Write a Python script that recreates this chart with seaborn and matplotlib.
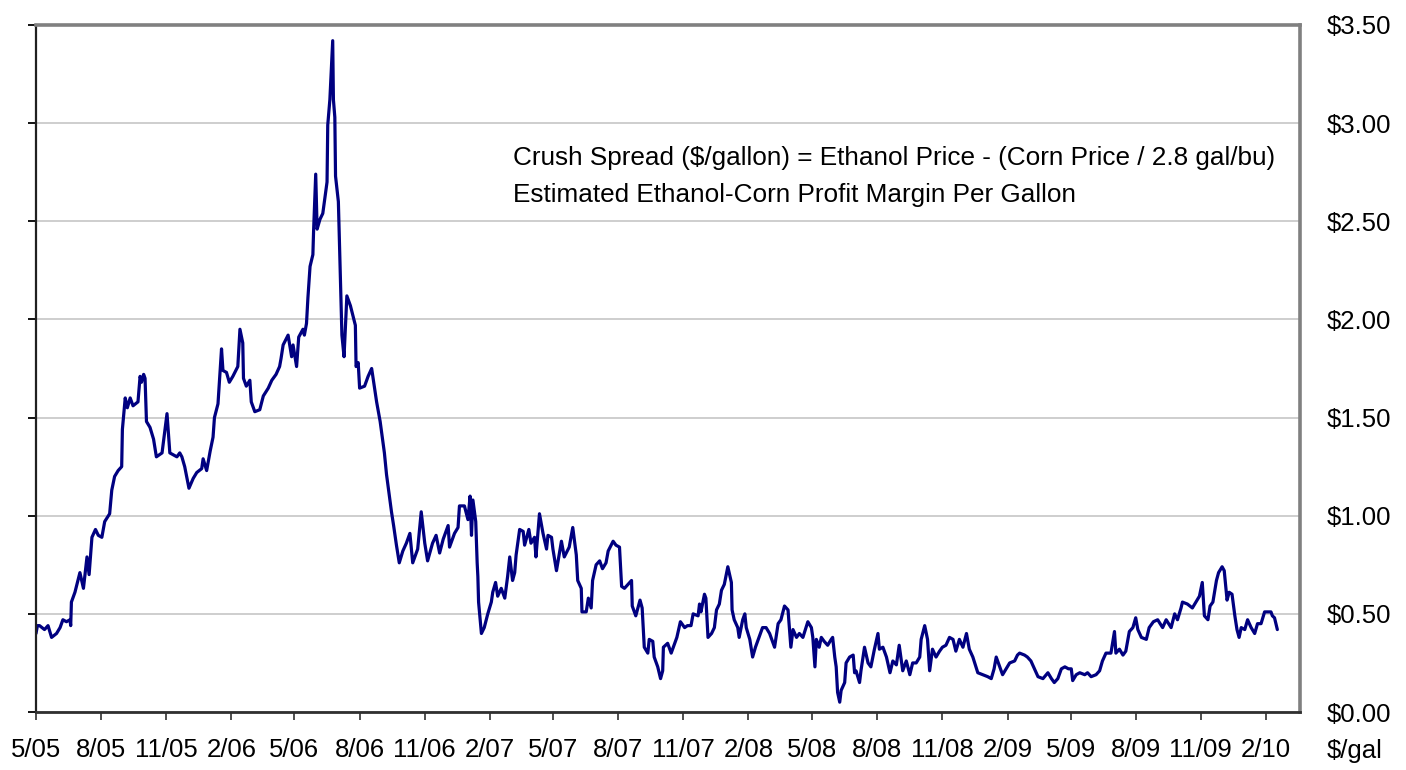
import matplotlib
matplotlib.use("Agg")
import matplotlib.pyplot as plt
import pandas as pd
import seaborn as sns

# ---- data ----
dates = [
    "2005-05-01", "2005-05-03", "2005-05-06", "2005-05-13", "2005-05-18", "2005-05-23", "2005-05-30",
    "2005-06-04", "2005-06-08", "2005-06-13", "2005-06-18", "2005-06-19", "2005-06-20", "2005-06-25",
    "2005-06-30", "2005-07-02", "2005-07-07", "2005-07-12", "2005-07-15", "2005-07-19", "2005-07-24",
    "2005-07-28", "2005-08-02", "2005-08-06", "2005-08-13", "2005-08-16", "2005-08-20", "2005-08-25",
    "2005-08-30", "2005-08-31", "2005-09-04", "2005-09-07", "2005-09-11", "2005-09-15", "2005-09-22",
    "2005-09-25", "2005-09-27", "2005-09-30", "2005-10-02", "2005-10-04", "2005-10-09", "2005-10-14",
    "2005-10-18", "2005-10-26", "2005-10-31", "2005-11-02", "2005-11-06", "2005-11-16", "2005-11-20",
    "2005-11-23", "2005-11-27", "2005-12-03", "2005-12-09", "2005-12-14", "2005-12-21", "2005-12-23",
    "2005-12-28", "2006-01-02", "2006-01-06", "2006-01-08", "2006-01-13", "2006-01-18", "2006-01-20",
    "2006-01-25", "2006-01-29", "2006-02-03", "2006-02-10", "2006-02-13", "2006-02-17", "2006-02-18",
    "2006-02-22", "2006-02-27", "2006-03-01", "2006-03-06", "2006-03-13", "2006-03-18", "2006-03-25",
    "2006-03-30", "2006-04-05", "2006-04-10", "2006-04-12", "2006-04-15", "2006-04-22", "2006-04-27",
    "2006-04-29", "2006-05-04", "2006-05-07", "2006-05-13", "2006-05-15", "2006-05-18", "2006-05-20",
    "2006-05-23", "2006-05-27", "2006-05-28", "2006-05-31", "2006-06-02", "2006-06-06", "2006-06-10",
    "2006-06-13", "2006-06-16", "2006-06-17", "2006-06-20", "2006-06-22", "2006-06-24", "2006-06-25",
    "2006-06-27", "2006-06-28", "2006-07-02", "2006-07-07", "2006-07-10", "2006-07-14", "2006-07-19",
    "2006-07-26", "2006-07-27", "2006-07-30", "2006-08-01", "2006-08-08", "2006-08-13", "2006-08-18",
    "2006-08-25", "2006-08-30", "2006-09-05", "2006-09-08", "2006-09-15", "2006-09-18", "2006-09-22",
    "2006-09-26", "2006-10-01", "2006-10-06", "2006-10-11", "2006-10-15", "2006-10-22", "2006-10-27",
    "2006-11-01", "2006-11-05", "2006-11-12", "2006-11-17", "2006-11-22", "2006-11-27", "2006-12-04",
    "2006-12-06", "2006-12-13", "2006-12-18", "2006-12-20", "2006-12-27", "2007-01-01", "2007-01-04",
    "2007-01-06", "2007-01-08", "2007-01-12", "2007-01-14", "2007-01-15", "2007-01-16", "2007-01-20",
    "2007-01-24", "2007-01-29", "2007-02-03", "2007-02-05", "2007-02-09", "2007-02-12", "2007-02-17",
    "2007-02-22", "2007-02-26", "2007-03-01", "2007-03-05", "2007-03-08", "2007-03-10", "2007-03-15",
    "2007-03-20", "2007-03-22", "2007-03-28", "2007-03-31", "2007-04-05", "2007-04-07", "2007-04-12",
    "2007-04-17", "2007-04-22", "2007-04-24", "2007-04-29", "2007-05-01", "2007-05-06", "2007-05-13",
    "2007-05-17", "2007-05-24", "2007-05-29", "2007-06-03", "2007-06-05", "2007-06-10", "2007-06-11",
    "2007-06-17", "2007-06-20", "2007-06-24", "2007-06-26", "2007-07-01", "2007-07-06", "2007-07-10",
    "2007-07-15", "2007-07-18", "2007-07-25", "2007-07-29", "2007-08-03", "2007-08-06", "2007-08-10",
    "2007-08-15", "2007-08-20", "2007-08-21", "2007-08-26", "2007-08-29", "2007-09-01", "2007-09-04",
    "2007-09-07", "2007-09-12", "2007-09-14", "2007-09-19", "2007-09-21", "2007-09-26", "2007-09-30",
    "2007-10-03", "2007-10-04", "2007-10-10", "2007-10-15", "2007-10-20", "2007-10-23", "2007-10-28",
    "2007-11-03", "2007-11-07", "2007-11-12", "2007-11-15", "2007-11-22", "2007-11-24", "2007-11-26",
    "2007-12-01", "2007-12-03", "2007-12-06", "2007-12-11", "2007-12-15", "2007-12-18", "2007-12-22",
    "2007-12-25", "2007-12-29", "2008-01-03", "2008-01-08", "2008-01-09", "2008-01-12", "2008-01-17",
    "2008-01-19", "2008-01-24", "2008-01-27", "2008-01-29", "2008-02-03", "2008-02-07", "2008-02-11",
    "2008-02-16", "2008-02-21", "2008-02-26", "2008-03-02", "2008-03-09", "2008-03-14", "2008-03-18",
    "2008-03-23", "2008-03-28", "2008-04-01", "2008-04-04", "2008-04-09", "2008-04-13", "2008-04-18",
    "2008-04-25", "2008-04-30", "2008-05-02", "2008-05-05", "2008-05-07", "2008-05-11", "2008-05-14",
    "2008-05-18", "2008-05-23", "2008-05-28", "2008-05-30", "2008-06-02", "2008-06-04", "2008-06-06",
    "2008-06-09", "2008-06-11", "2008-06-16", "2008-06-18", "2008-06-23", "2008-06-28", "2008-06-30",
    "2008-07-02", "2008-07-07", "2008-07-09", "2008-07-14", "2008-07-19", "2008-07-23", "2008-07-28",
    "2008-08-02", "2008-08-04", "2008-08-09", "2008-08-14", "2008-08-19", "2008-08-23", "2008-08-28",
    "2008-09-01", "2008-09-06", "2008-09-11", "2008-09-16", "2008-09-20", "2008-09-25", "2008-09-30",
    "2008-10-02", "2008-10-07", "2008-10-11", "2008-10-14", "2008-10-18", "2008-10-23", "2008-10-28",
    "2008-11-01", "2008-11-06", "2008-11-11", "2008-11-16", "2008-11-20", "2008-11-25", "2008-11-30",
    "2008-12-05", "2008-12-09", "2008-12-14", "2008-12-21", "2008-12-28", "2009-01-04", "2009-01-09",
    "2009-01-13", "2009-01-16", "2009-01-21", "2009-01-25", "2009-01-30", "2009-02-04", "2009-02-11",
    "2009-02-15", "2009-02-18", "2009-02-25", "2009-03-01", "2009-03-06", "2009-03-11", "2009-03-16",
    "2009-03-23", "2009-03-30", "2009-04-04", "2009-04-08", "2009-04-13", "2009-04-18", "2009-04-23",
    "2009-04-28", "2009-05-02", "2009-05-04", "2009-05-09", "2009-05-14", "2009-05-21", "2009-05-25",
    "2009-05-30", "2009-06-06", "2009-06-11", "2009-06-15", "2009-06-20", "2009-06-27", "2009-07-02",
    "2009-07-04", "2009-07-09", "2009-07-14", "2009-07-18", "2009-07-23", "2009-07-28", "2009-08-01",
    "2009-08-04", "2009-08-09", "2009-08-16", "2009-08-20", "2009-08-26", "2009-09-01", "2009-09-08",
    "2009-09-13", "2009-09-20", "2009-09-25", "2009-09-29", "2009-10-04", "2009-10-06", "2009-10-13",
    "2009-10-20", "2009-10-25", "2009-10-30", "2009-11-03", "2009-11-06", "2009-11-11", "2009-11-14",
    "2009-11-18", "2009-11-23", "2009-11-26", "2009-12-01", "2009-12-04", "2009-12-08", "2009-12-11",
    "2009-12-15", "2009-12-19", "2009-12-22", "2009-12-25", "2009-12-28", "2010-01-02", "2010-01-06",
    "2010-01-11", "2010-01-16", "2010-01-20", "2010-01-25", "2010-01-30", "2010-02-03", "2010-02-08",
    "2010-02-10", "2010-02-13", "2010-02-17",
]
crush_spread = [
    0.40, 0.44, 0.44, 0.42, 0.44, 0.38, 0.40,
    0.43, 0.47, 0.46, 0.47, 0.44, 0.56, 0.61,
    0.68, 0.71, 0.63, 0.79, 0.70, 0.89, 0.93,
    0.90, 0.89, 0.97, 1.01, 1.13, 1.20, 1.23,
    1.25, 1.44, 1.60, 1.55, 1.60, 1.56, 1.58,
    1.71, 1.68, 1.72, 1.70, 1.48, 1.45, 1.39,
    1.30, 1.32, 1.46, 1.52, 1.32, 1.30, 1.32,
    1.30, 1.25, 1.14, 1.19, 1.22, 1.24, 1.29,
    1.23, 1.33, 1.40, 1.50, 1.57, 1.85, 1.74,
    1.73, 1.68, 1.71, 1.76, 1.95, 1.88, 1.70,
    1.66, 1.69, 1.58, 1.53, 1.54, 1.61, 1.65,
    1.69, 1.72, 1.76, 1.80, 1.87, 1.92, 1.81,
    1.87, 1.76, 1.91, 1.95, 1.92, 1.98, 2.11,
    2.27, 2.33, 2.45, 2.74, 2.46, 2.51, 2.54,
    2.62, 2.70, 2.99, 3.12, 3.27, 3.42, 3.12,
    3.03, 2.73, 2.60, 1.92, 1.81, 2.12, 2.07,
    1.97, 1.76, 1.78, 1.65, 1.66, 1.71, 1.75,
    1.58, 1.48, 1.32, 1.21, 1.02, 0.95, 0.85,
    0.76, 0.82, 0.86, 0.91, 0.76, 0.83, 1.02,
    0.86, 0.77, 0.86, 0.90, 0.81, 0.88, 0.95,
    0.84, 0.91, 0.94, 1.05, 1.05, 0.98, 1.10,
    0.90, 1.08, 0.97, 0.76, 0.69, 0.56, 0.40,
    0.43, 0.50, 0.56, 0.61, 0.66, 0.59, 0.63,
    0.58, 0.69, 0.79, 0.67, 0.71, 0.80, 0.93,
    0.92, 0.85, 0.93, 0.86, 0.89, 0.79, 1.01,
    0.91, 0.83, 0.90, 0.89, 0.83, 0.72, 0.87,
    0.79, 0.84, 0.94, 0.80, 0.67, 0.63, 0.51,
    0.51, 0.58, 0.53, 0.67, 0.75, 0.77, 0.73,
    0.76, 0.82, 0.87, 0.85, 0.84, 0.64, 0.63,
    0.65, 0.67, 0.54, 0.49, 0.53, 0.57, 0.53,
    0.33, 0.30, 0.37, 0.36, 0.28, 0.23, 0.17,
    0.21, 0.33, 0.35, 0.30, 0.35, 0.38, 0.46,
    0.43, 0.44, 0.44, 0.50, 0.49, 0.55, 0.51,
    0.60, 0.58, 0.38, 0.40, 0.43, 0.52, 0.55,
    0.62, 0.65, 0.74, 0.66, 0.52, 0.47, 0.43,
    0.38, 0.47, 0.50, 0.43, 0.37, 0.28, 0.33,
    0.38, 0.43, 0.43, 0.40, 0.33, 0.45, 0.47,
    0.54, 0.52, 0.33, 0.42, 0.38, 0.40, 0.38,
    0.46, 0.43, 0.38, 0.23, 0.37, 0.33, 0.38,
    0.36, 0.34, 0.37, 0.38, 0.28, 0.23, 0.10,
    0.05, 0.11, 0.15, 0.25, 0.28, 0.29, 0.20,
    0.21, 0.15, 0.21, 0.33, 0.25, 0.23, 0.32,
    0.40, 0.32, 0.33, 0.28, 0.20, 0.26, 0.24,
    0.34, 0.21, 0.26, 0.19, 0.25, 0.25, 0.28,
    0.37, 0.44, 0.37, 0.21, 0.32, 0.28, 0.31,
    0.33, 0.34, 0.38, 0.37, 0.31, 0.37, 0.33,
    0.40, 0.32, 0.28, 0.20, 0.19, 0.18, 0.17,
    0.22, 0.28, 0.23, 0.19, 0.22, 0.25, 0.26,
    0.29, 0.30, 0.29, 0.28, 0.26, 0.22, 0.18,
    0.17, 0.20, 0.17, 0.15, 0.17, 0.22, 0.23,
    0.22, 0.22, 0.16, 0.19, 0.20, 0.19, 0.20,
    0.18, 0.19, 0.21, 0.26, 0.30, 0.30, 0.41,
    0.30, 0.32, 0.29, 0.31, 0.41, 0.43, 0.48,
    0.42, 0.38, 0.37, 0.43, 0.46, 0.47, 0.43,
    0.47, 0.43, 0.50, 0.47, 0.53, 0.56, 0.55,
    0.53, 0.56, 0.59, 0.66, 0.49, 0.47, 0.54,
    0.56, 0.67, 0.71, 0.74, 0.72, 0.57, 0.61,
    0.60, 0.49, 0.42, 0.38, 0.43, 0.42, 0.47,
    0.43, 0.40, 0.45, 0.45, 0.51, 0.51, 0.51,
    0.49, 0.48, 0.42,
]
x_tick_dates = ["2005-05-01", "2005-08-01", "2005-11-01", "2006-02-01", "2006-05-01", "2006-08-01",
                "2006-11-01", "2007-02-01", "2007-05-01", "2007-08-01", "2007-11-01", "2008-02-01",
                "2008-05-01", "2008-08-01", "2008-11-01", "2009-02-01", "2009-05-01", "2009-08-01",
                "2009-11-01", "2010-02-01"]
x_tick_labels = ["5/05", "8/05", "11/05", "2/06", "5/06", "8/06", "11/06", "2/07", "5/07", "8/07",
                 "11/07", "2/08", "5/08", "8/08", "11/08", "2/09", "5/09", "8/09", "11/09", "2/10"]
y_ticks = [0.0, 0.5, 1.0, 1.5, 2.0, 2.5, 3.0, 3.5]
y_tick_labels = [r"\$0.00", r"\$0.50", r"\$1.00", r"\$1.50", r"\$2.00", r"\$2.50", r"\$3.00", r"\$3.50"]
note_line1 = r"Crush Spread (\$/gallon) = Ethanol Price - (Corn Price / 2.8 gal/bu)"
note_line2 = "Estimated Ethanol-Corn Profit Margin Per Gallon"
unit_label = r"\$/gal"

df = pd.DataFrame({"date": pd.to_datetime(dates), "spread": crush_spread})

sns.set_theme(style="white")
plt.rcParams["font.family"] = ["Liberation Sans", "DejaVu Sans"]

W, H = 1406, 770
fig = plt.figure(figsize=(W / 100, H / 100), dpi=100)
ax = fig.add_axes([36 / W, (H - 712) / H, (1300 - 36) / W, (712 - 25) / H])

sns.lineplot(data=df, x="date", y="spread", ax=ax, color="#000080", linewidth=2.3,
             estimator=None, sort=False)

ax.set_xlim(pd.Timestamp("2005-05-01"), pd.Timestamp("2010-03-21"))
ax.set_ylim(0, 3.5)
ax.set_xticks(pd.to_datetime(x_tick_dates))
ax.set_xticklabels(x_tick_labels)
ax.set_yticks(y_ticks)
ax.set_yticklabels(y_tick_labels)
ax.set_xlabel("")
ax.set_ylabel("")

ax.yaxis.grid(True, color="#c6c6c6", linewidth=1.2)
ax.xaxis.grid(False)
ax.set_axisbelow(True)

ax.tick_params(axis="y", which="major", left=True, right=False, labelleft=False, labelright=True,
               length=6, width=1.3, color="black", pad=13.5, labelsize=18.5, labelcolor="black")
ax.tick_params(axis="x", which="major", bottom=True, length=6, width=1.3, color="#404040",
               pad=13, labelsize=18.5, labelcolor="black")

for side, col, lw in [("top", "#808080", 2.6), ("right", "#808080", 2.6),
                      ("left", "#202020", 1.6), ("bottom", "#303030", 2.0)]:
    ax.spines[side].set_visible(True)
    ax.spines[side].set_color(col)
    ax.spines[side].set_linewidth(lw)

ax.text((513 - 36) / (1300 - 36), (712 - 158) / (712 - 25), note_line1, transform=ax.transAxes,
        ha="left", va="center", fontsize=18.8, color="black")
ax.text((513 - 36) / (1300 - 36), (712 - 195) / (712 - 25), note_line2, transform=ax.transAxes,
        ha="left", va="center", fontsize=18.8, color="black")

fig.text(1327 / W, 1 - 751 / H, unit_label, ha="left", va="center", fontsize=18.5, color="black")

fig.savefig("out.png", dpi=100)
